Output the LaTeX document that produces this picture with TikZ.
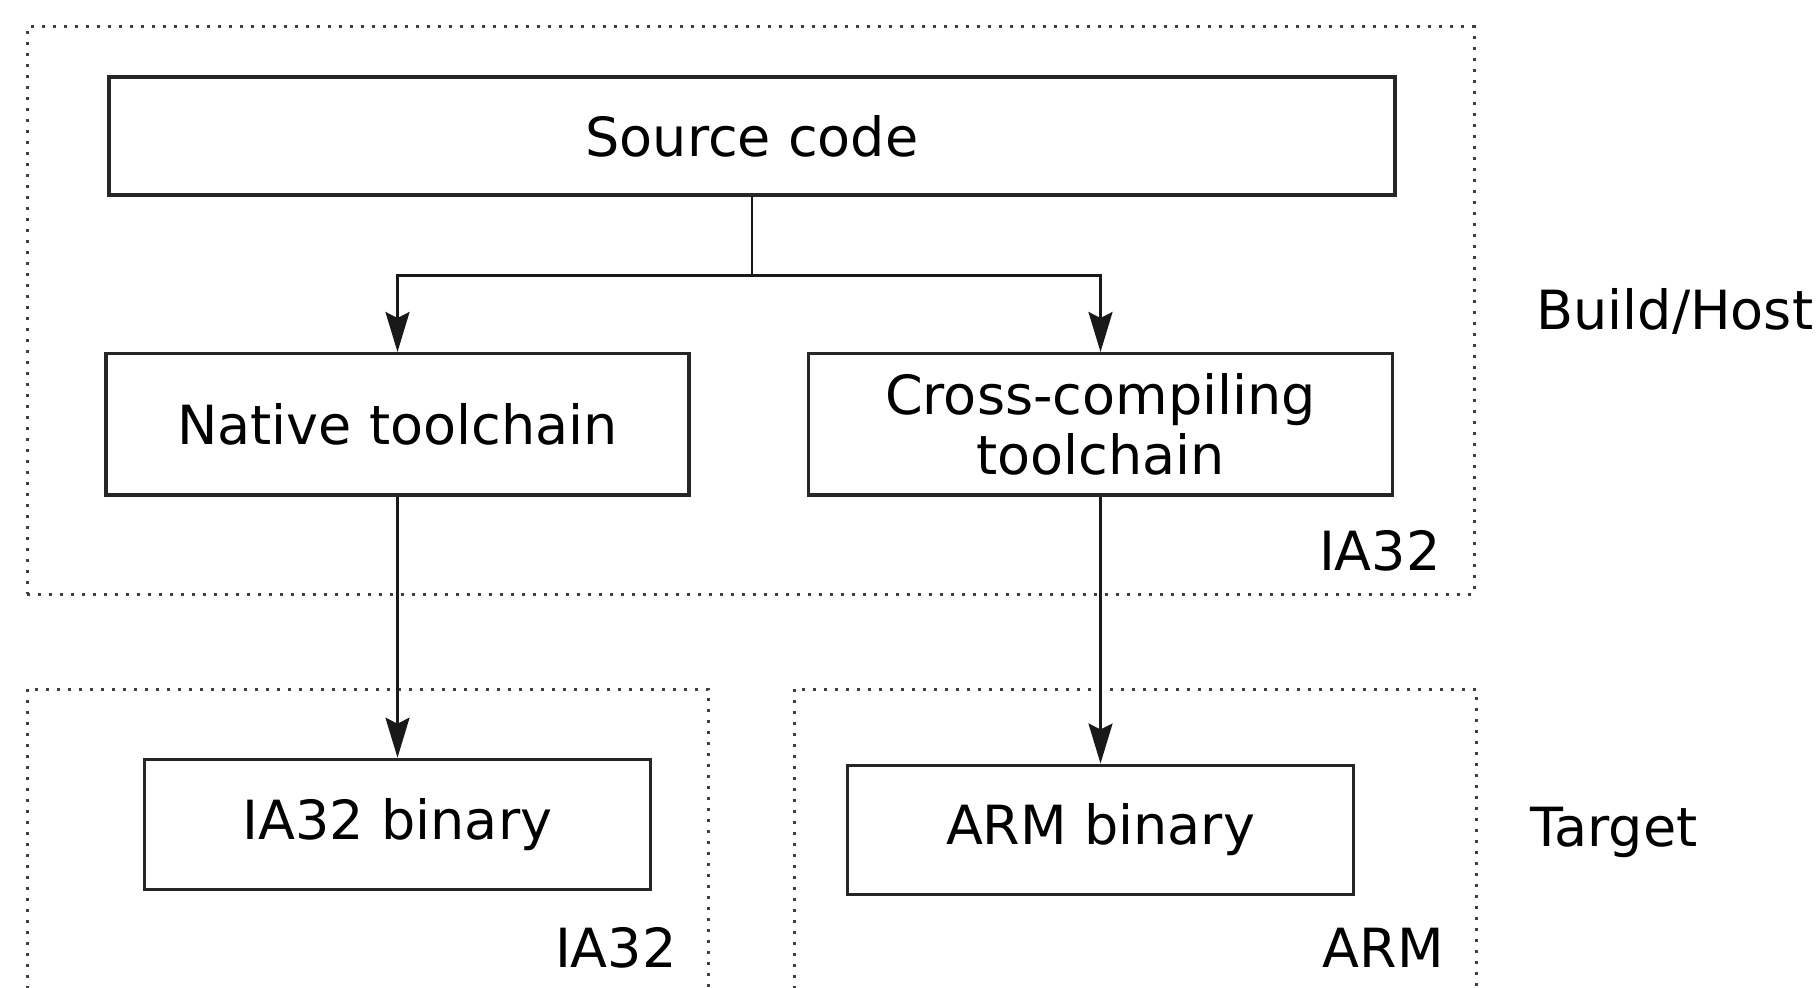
\documentclass[tikz,border=0pt]{standalone}
\usepackage{fontspec}
\setmainfont{DejaVu Sans}
\usetikzlibrary{arrows.meta,calc}
\begin{document}
\begin{tikzpicture}[x=0.5pt,y=-0.5pt,
  box/.style={draw=black!85, line width=1.6pt, fill=white, inner sep=0pt,
    align=center, font=\fontsize{27}{30}\selectfont},
  frame/.style={draw=black!75, line width=1.5pt, dash pattern=on 1.5pt off 4pt},
  flow/.style={draw=black!90, line width=1.3pt,
    -{Stealth[length=20pt,width=12pt,inset=3pt]}},
  tag/.style={inner sep=0pt, font=\fontsize{27}{30}\selectfont}]
\useasboundingbox (0,0) rectangle (1818,988);
\clip (0,0) rectangle (1818,988);

% domains
\node[frame, minimum width=723.5pt, minimum height=283.5pt, inner sep=0pt]
  (hostframe) at (750.5,310.5) {};
\draw[frame] (27,1000) -- (27,689) -- (708,689) -- (708,1000);
\draw[frame] (794,1000) -- (794,689) -- (1476,689) -- (1476,1000);

% tool and artefact boxes
\node[box, minimum width=643pt, minimum height=59pt] (src) at (752,136) {Source code};
\node[box, minimum width=291.5pt, minimum height=70.7pt] (native) at (397.5,424.3) {Native toolchain};
\node[box, minimum width=292pt, minimum height=70.7pt] (cross) at (1100.5,424.3) {Cross-compiling\\toolchain};
\node[box, minimum width=253.3pt, minimum height=65pt] (ia32bin) at (397.5,824.3) {IA32 binary};
\node[box, minimum width=252.8pt, minimum height=64.5pt] (armbin) at (1100.5,829.6) {ARM binary};

% labels
\node[tag, anchor=base east] (hostarch) at (1441,570) {IA32};
\node[tag, anchor=base east] (ia32arch) at (677,967) {IA32};
\node[tag, anchor=base east] (armarch) at (1444,967) {ARM};
\node[tag, anchor=base west] (buildlbl) at (1536,330) {Build/Host};
\node[tag, anchor=base west] (targetlbl) at (1530,846) {Target};

% flow
\coordinate (split) at ($(src.south)+(0,79)$);
\draw[draw=black!90, line width=1.3pt] (src.south) -- (split);
\draw[flow] (split) -| (native.north);
\draw[flow] (split) -| (cross.north);
\draw[flow] (native.south) -- (ia32bin.north);
\draw[flow] (cross.south) -- (armbin.north);
\end{tikzpicture}
\end{document}
